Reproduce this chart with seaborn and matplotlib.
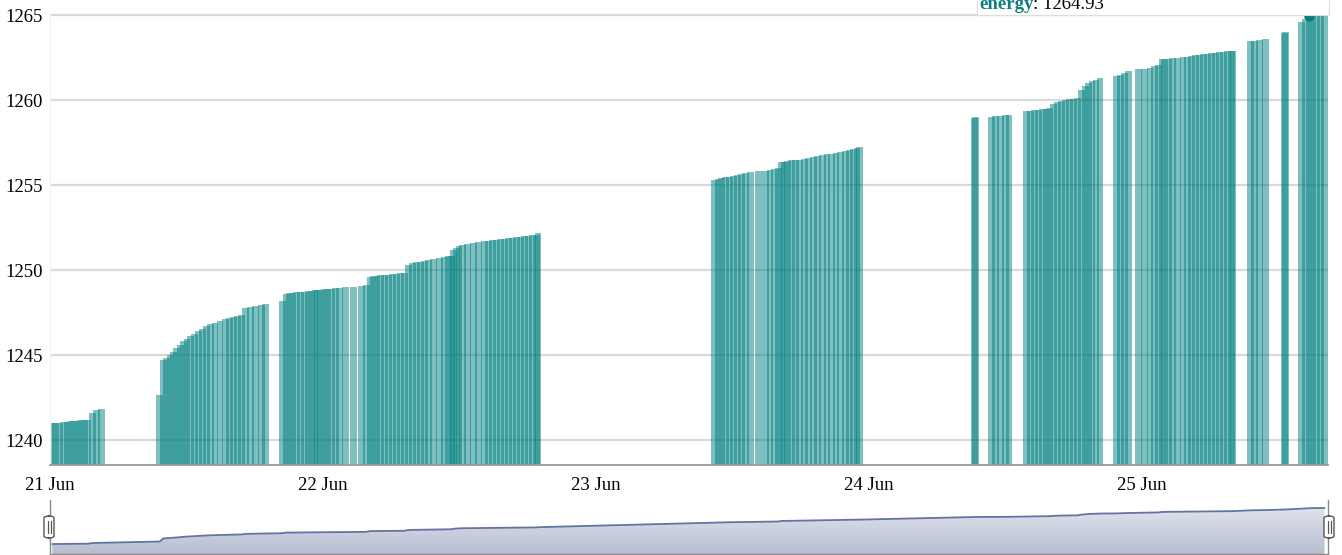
import numpy as np
import pandas as pd
import matplotlib
matplotlib.use("Agg")
import matplotlib.pyplot as plt
import seaborn as sns
from matplotlib.patches import Rectangle, FancyBboxPatch
from matplotlib.colors import LinearSegmentedColormap

# ---------------- data (hours since 21 Jun 00:00, energy reading) ----------------
seg1_h = [0.2, 0.5, 0.8, 1.2, 1.5, 1.8, 2.1, 2.4, 2.7, 3.0, 3.3, 3.7, 4.1, 4.5]
seg1_v = [1240.98, 1241.0, 1241.02, 1241.05, 1241.07, 1241.1, 1241.12, 1241.14,
          1241.16, 1241.18, 1241.2, 1241.6, 1241.75, 1241.8]

seg2_h = [9.65, 9.95, 10.25, 10.55, 10.85, 11.15, 11.45, 11.75, 12.05, 12.35, 12.7,
          13.05, 13.4, 13.75, 14.1, 14.5, 14.95, 15.4, 15.8, 16.15, 16.5, 16.85,
          17.2, 17.6, 18.1, 18.6, 18.95]
seg2_v = [1242.65, 1244.7, 1244.85, 1245.0, 1245.2, 1245.4, 1245.6, 1245.8, 1245.95,
          1246.1, 1246.25, 1246.4, 1246.55, 1246.7, 1246.8, 1246.9, 1247.0, 1247.1,
          1247.2, 1247.25, 1247.3, 1247.35, 1247.76, 1247.82, 1247.88, 1247.93, 1247.98]

seg3_h = [20.45, 20.75, 21.05, 21.35, 21.65, 22.0, 22.35, 22.7, 23.0, 23.3, 23.55,
          23.8, 24.1, 24.4, 24.75, 25.1, 25.45, 26.0, 26.7, 27.4, 27.8, 28.15, 28.45,
          28.75, 29.05, 29.4, 29.75, 30.1, 30.45, 30.8, 31.15, 31.5, 31.85, 32.2,
          32.55, 32.9, 33.3, 33.75, 34.25, 34.7, 35.0, 35.3, 35.5, 35.7, 35.95, 36.25,
          36.7, 37.2, 37.7, 38.2, 38.55, 38.9, 39.25, 39.6, 39.95, 40.3, 40.65, 41.0,
          41.35, 41.7, 42.05, 42.4, 42.75, 42.9]
seg3_v = [1248.2, 1248.6, 1248.62, 1248.65, 1248.68, 1248.7, 1248.72, 1248.75,
          1248.77, 1248.8, 1248.82, 1248.84, 1248.86, 1248.88, 1248.9, 1248.92,
          1248.95, 1248.98, 1249.0, 1249.05, 1249.1, 1249.6, 1249.62, 1249.65,
          1249.68, 1249.7, 1249.72, 1249.75, 1249.78, 1249.8, 1249.82, 1250.3,
          1250.4, 1250.45, 1250.5, 1250.55, 1250.6, 1250.65, 1250.7, 1250.75, 1250.8,
          1250.82, 1251.2, 1251.3, 1251.4, 1251.5, 1251.55, 1251.6, 1251.65, 1251.7,
          1251.72, 1251.75, 1251.78, 1251.8, 1251.83, 1251.86, 1251.9, 1251.93,
          1251.96, 1251.99, 1252.02, 1252.04, 1252.06, 1252.2]

seg4_h = [58.45, 58.75, 59.05, 59.4, 59.75, 60.1, 60.45, 60.8, 61.15, 61.6, 62.3,
          62.9, 63.3, 63.7, 64.05, 64.3, 64.55, 64.85, 65.2, 65.55, 65.9, 66.3, 66.7,
          67.1, 67.5, 67.9, 68.3, 68.7, 69.1, 69.5, 69.9, 70.3, 70.65, 70.95, 71.2]
seg4_v = [1255.3, 1255.35, 1255.4, 1255.45, 1255.5, 1255.55, 1255.6, 1255.65, 1255.7,
          1255.75, 1255.8, 1255.85, 1255.9, 1255.95, 1256.0, 1256.35, 1256.38,
          1256.42, 1256.45, 1256.48, 1256.5, 1256.55, 1256.6, 1256.65, 1256.7,
          1256.75, 1256.8, 1256.85, 1256.9, 1256.95, 1257.0, 1257.05, 1257.1,
          1257.18, 1257.25]

seg5_h = [81.25, 81.35]
seg5_v = [1258.95, 1259.0]

seg6_h = [82.75, 83.1, 83.55, 84.0, 84.3]
seg6_v = [1259.0, 1259.05, 1259.08, 1259.1, 1259.12]

seg7_h = [85.85, 86.2, 86.55, 86.9, 87.25, 87.6, 87.9, 88.25, 88.6, 88.95, 89.3,
          89.65, 90.0, 90.35, 90.7, 91.0, 91.3, 91.6, 91.95, 92.3]
seg7_v = [1259.35, 1259.38, 1259.41, 1259.44, 1259.47, 1259.5, 1259.55, 1259.75,
          1259.9, 1259.95, 1260.0, 1260.03, 1260.06, 1260.1, 1260.6, 1260.8, 1261.0,
          1261.1, 1261.2, 1261.3]

seg8_h = [93.75, 94.1, 94.45, 94.8, 95.7, 96.2, 96.7, 97.1, 97.45, 97.75, 98.0, 98.3,
          98.65, 99.1, 99.6, 100.0, 100.35, 100.7, 101.05, 101.4, 101.75, 102.1,
          102.45, 102.8, 103.15, 103.5, 103.85, 104.0]
seg8_v = [1261.4, 1261.5, 1261.6, 1261.68, 1261.8, 1261.85, 1261.9, 1261.98, 1262.05,
          1262.4, 1262.42, 1262.44, 1262.47, 1262.5, 1262.52, 1262.55, 1262.6,
          1262.63, 1262.66, 1262.7, 1262.73, 1262.76, 1262.79, 1262.82, 1262.85,
          1262.87, 1262.88, 1262.9]

seg9_h = [105.55, 105.9, 106.3, 106.85]
seg9_v = [1263.45, 1263.5, 1263.55, 1263.6]

seg10_h = [108.5, 108.6]
seg10_v = [1263.95, 1264.0]

seg11_h = [110.05, 110.35, 110.7, 111.0, 111.35, 111.7, 112.05]
seg11_v = [1264.6, 1264.75, 1264.93, 1264.95, 1264.97, 1265.0, 1265.0]

x_tick_hours = [0, 24, 48, 72, 96]
x_tick_labels = ["21 Jun", "22 Jun", "23 Jun", "24 Jun", "25 Jun"]
y_ticks = [1240, 1245, 1250, 1255, 1260, 1265]

series_name = "energy"
hover_hour = 110.7
hover_value = 1264.93

hours = (seg1_h + seg2_h + seg3_h + seg4_h + seg5_h + seg6_h + seg7_h + seg8_h
         + seg9_h + seg10_h + seg11_h)
values = (seg1_v + seg2_v + seg3_v + seg4_v + seg5_v + seg6_v + seg7_v + seg8_v
          + seg9_v + seg10_v + seg11_v)
df = pd.DataFrame({"hour": hours, "energy": values})

# ---------------- styling ----------------
sns.set_style("white")
plt.rcParams["font.family"] = ["Liberation Serif", "DejaVu Serif"]

W, H = 1342, 555
fig = plt.figure(figsize=(W / 100, H / 100), dpi=100)

XMAX = 112.35
Y0, Y1 = 1238.53, 1265.1
TEAL = "#008080"

ax = fig.add_axes([50 / W, 90 / H, 1278 / W, (465 - 13.3) / H])
bar_hours = 0.6
sns.barplot(data=df, x="hour", y="energy", native_scale=True,
            color=TEAL, alpha=0.5, saturation=1, errorbar=None,
            linewidth=0, edgecolor="none", ax=ax)
# give every column the same time width, centred on its timestamp
for p in ax.patches:
    c = p.get_x() + p.get_width() / 2
    p.set_x(c - bar_hours / 2)
    p.set_width(bar_hours)
    p.set_linewidth(0)
    p.set_edgecolor("none")

ax.set_xlim(0, XMAX)
ax.set_ylim(Y0, Y1)
ax.set_yticks(y_ticks)
ax.set_yticklabels([str(t) for t in y_ticks])
ax.set_xticks(x_tick_hours)
ax.set_xticklabels(x_tick_labels)
ax.set_xlabel("")
ax.set_ylabel("")
ax.yaxis.grid(True, color="#d9d9d9", lw=1.6)
ax.xaxis.grid(False)
ax.set_axisbelow(True)
for s in ["top", "right"]:
    ax.spines[s].set_visible(False)
ax.spines["left"].set_color("#f2f2f2")
ax.spines["left"].set_linewidth(1.0)
ax.spines["bottom"].set_color("#9a9a9a")
ax.spines["bottom"].set_linewidth(1.3)
ax.tick_params(axis="both", length=0, labelsize=13.5, colors="black")
ax.tick_params(axis="y", pad=5)
ax.tick_params(axis="x", pad=9)

# hover marker
ax.plot([hover_hour], [hover_value], "o", color="#0b7d7b", ms=6.5, clip_on=False, zorder=6)

# ---------------- navigator ----------------
NY0, NY1 = 1234.33, 1270.33
nax = fig.add_axes([50 / W, 1 / H, 1278 / W, 54 / H])
poly = nax.fill_between(df["hour"], df["energy"], NY0, color="none", lw=0)
grad = np.linspace(0, 1, 100).reshape(-1, 1)
cmap = LinearSegmentedColormap.from_list("nav", ["#b7bed1", "#e6e9f1"])
im = nax.imshow(grad, extent=[0, XMAX, NY0, NY1], aspect="auto", cmap=cmap,
                origin="lower", zorder=1)
im.set_clip_path(poly.get_paths()[0], transform=nax.transData)
sns.lineplot(x=df["hour"], y=df["energy"], ax=nax, color="#6474a0", lw=1.3, zorder=3)
nax.set_xlim(0, XMAX)
nax.set_ylim(NY0, NY1)
nax.set_xticks([])
nax.set_yticks([])
nax.set_xlabel("")
nax.set_ylabel("")
nax.spines["top"].set_visible(False)
for s in ["left", "right", "bottom"]:
    nax.spines[s].set_color("#8a8a8a")
    nax.spines[s].set_linewidth(1.0)
nax.patch.set_alpha(0)

# navigator handles
for cx in (49, 1329):
    hw, hh = 10, 22
    fig.add_artist(FancyBboxPatch(((cx - hw / 2) / W, (555 - 538) / H), hw / W, hh / H,
                                  boxstyle="round,pad=0,rounding_size=0.004",
                                  transform=fig.transFigure, facecolor="white",
                                  edgecolor="#555555", lw=1.0, zorder=10))
    for dx in (-1.5, 1.5):
        fig.add_artist(plt.Line2D([(cx + dx) / W] * 2, [(555 - 533) / H, (555 - 521) / H],
                                  transform=fig.transFigure, color="#555555", lw=0.9,
                                  zorder=11))

# ---------------- tooltip ----------------
fig.add_artist(Rectangle((977 / W, (555 - 14.5) / H), (1329 - 977) / W, 20 / H,
                         transform=fig.transFigure, facecolor="white",
                         edgecolor="#dddddd", lw=0.8, zorder=8))
t1 = fig.text(979 / W, (555 - 9) / H, series_name, fontsize=13.5, fontweight="bold",
              color="#0e7f7f", va="baseline", ha="left", zorder=9)
fig.canvas.draw()
bb = t1.get_window_extent()
fig.text(bb.x1 / fig.bbox.width, (555 - 9) / H, f": {hover_value:.2f}", fontsize=13.5,
         color="black", va="baseline", ha="left", zorder=9)

fig.savefig("out.png", dpi=100)
